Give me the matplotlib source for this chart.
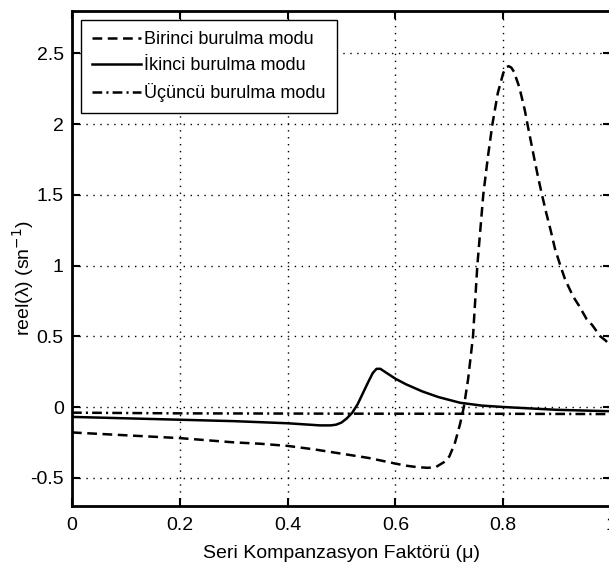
import matplotlib
matplotlib.use('Agg')
import matplotlib.pyplot as plt

plt.rcParams['font.family'] = ['Liberation Sans', 'DejaVu Sans']
plt.rcParams['lines.scale_dashes'] = False

# Birinci burulma modu (dashed)
x1 = [0.0, 0.05, 0.1, 0.15, 0.2, 0.25, 0.3, 0.35, 0.4, 0.45, 0.5, 0.55, 0.6, 0.62,
      0.64, 0.66, 0.675, 0.69, 0.70, 0.71, 0.72, 0.727, 0.735, 0.744, 0.752, 0.763,
      0.772, 0.78, 0.79, 0.80, 0.805, 0.81, 0.815, 0.82, 0.83, 0.84, 0.845, 0.858,
      0.865, 0.872, 0.88, 0.888, 0.896, 0.906, 0.915, 0.93, 0.94, 0.955, 0.965,
      0.98, 0.99, 1.0]
y1 = [-0.18, -0.19, -0.20, -0.21, -0.22, -0.235, -0.25, -0.26, -0.275, -0.30, -0.33,
      -0.36, -0.40, -0.415, -0.425, -0.43, -0.425, -0.39, -0.35, -0.26, -0.12, 0.0,
      0.2, 0.5, 1.0, 1.5, 1.78, 2.0, 2.22, 2.36, 2.40, 2.41, 2.40, 2.37, 2.26, 2.1,
      2.0, 1.75, 1.62, 1.5, 1.37, 1.25, 1.12, 1.0, 0.9, 0.78, 0.72, 0.62, 0.58, 0.5,
      0.47, 0.43]

# İkinci burulma modu (solid)
x2 = [0.0, 0.1, 0.2, 0.3, 0.4, 0.44, 0.46, 0.48, 0.49, 0.5, 0.51, 0.52, 0.53, 0.54,
      0.55, 0.558, 0.565, 0.572, 0.58, 0.59, 0.6, 0.62, 0.65, 0.68, 0.72, 0.76, 0.8,
      0.85, 0.9, 0.95, 1.0]
y2 = [-0.07, -0.08, -0.09, -0.10, -0.115, -0.125, -0.13, -0.13, -0.125, -0.11, -0.08,
      -0.04, 0.02, 0.10, 0.18, 0.24, 0.27, 0.27, 0.25, 0.225, 0.20, 0.16, 0.11, 0.07,
      0.03, 0.01, 0.0, -0.01, -0.02, -0.025, -0.03]

# Üçüncü burulma modu (dash-dot)
x3 = [0.0, 0.2, 0.5, 0.8, 1.0]
y3 = [-0.04, -0.045, -0.047, -0.048, -0.05]

fig = plt.figure(figsize=(6.09, 5.65), dpi=100)
ax = fig.add_axes([72 / 609, 59 / 565, 539 / 609, 495 / 565])

ax.plot(x1, y1, color='k', lw=1.8, dashes=[7, 4], label='Birinci burulma modu')
ax.plot(x2, y2, color='k', lw=1.8, label='İkinci burulma modu')
ax.plot(x3, y3, color='k', lw=1.8, dashes=[7, 3, 1.5, 3], label='Üçüncü burulma modu')

ax.set_xlim(0, 1)
ax.set_ylim(-0.7, 2.8)
ax.set_xticks([0, 0.2, 0.4, 0.6, 0.8, 1])
ax.set_xticklabels(['0', '0.2', '0.4', '0.6', '0.8', '1'])
ax.set_yticks([-0.5, 0, 0.5, 1, 1.5, 2, 2.5])
ax.set_yticklabels(['-0.5', '0', '0.5', '1', '1.5', '2', '2.5'])
ax.tick_params(direction='in', top=True, right=True, length=6, width=1.5, labelsize=14)
ax.tick_params(axis='x', pad=8)
ax.tick_params(axis='y', pad=6)
ax.grid(True, linestyle=(0, (1, 4)), color='k', linewidth=1)
for s in ax.spines.values():
    s.set_linewidth(2)

ax.set_xlabel('Seri Kompanzasyon Faktörü (μ)', fontsize=14, labelpad=8)
ax.set_ylabel('reel(λ) (sn$^{-1}$)', fontsize=14)
ax.yaxis.set_label_coords(-0.066, 0.46)

leg = ax.legend(loc='upper left', fontsize=13, fancybox=False, framealpha=1,
                edgecolor='k', borderaxespad=0.5, handlelength=2.7, handletextpad=0.2,
                labelspacing=0.5, borderpad=0.6)
leg.get_frame().set_linewidth(1)

fig.savefig('out.png', dpi=100)
